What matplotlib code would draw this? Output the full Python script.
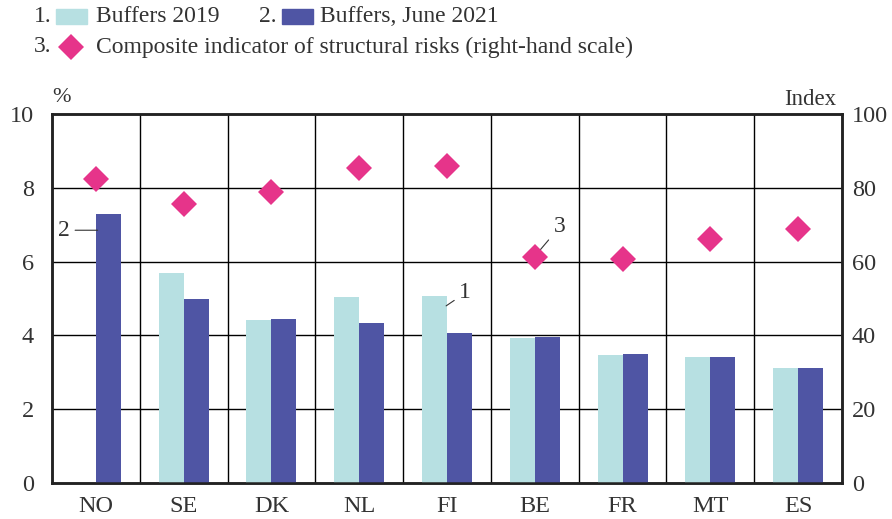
import numpy as np
import matplotlib.pyplot as plt
from matplotlib.patches import Rectangle
from matplotlib.lines import Line2D

plt.rcParams["font.family"] = ["Liberation Serif", "DejaVu Serif"]

# -----------------------------
# Data
# -----------------------------
countries = ["NO", "SE", "DK", "NL", "FI", "BE", "FR", "MT", "ES"]
buffers_2019 = [0.0, 5.68, 4.42, 5.04, 5.07, 3.93, 3.47, 3.41, 3.12]
buffers_2021 = [7.29, 5.00, 4.44, 4.33, 4.06, 3.95, 3.49, 3.42, 3.12]
risk_index = [82.3, 75.5, 78.9, 85.5, 85.9, 61.3, 60.6, 66.0, 68.8]

light = "#b7e0e2"
dark = "#4f55a4"
pink = "#e6348a"
txt = "#333333"

fig = plt.figure(figsize=(8.92, 5.19), dpi=100)
ax = fig.add_axes([52 / 892, 1 - 483 / 519, 790 / 892, 369 / 519])

x = np.arange(len(countries))
w = 0.285
ax.bar(x - w / 2, buffers_2019, width=w, color=light, zorder=3)
ax.bar(x + w / 2, buffers_2021, width=w, color=dark, zorder=3)

ax.set_xlim(-0.5, len(countries) - 0.5)
ax.set_ylim(0, 10)
ax.set_yticks(range(0, 11, 2))
ax.set_xticks(x)
ax.set_xticklabels(countries)

# grid: horizontal lines + vertical separators between categories
for yv in range(2, 10, 2):
    ax.axhline(yv, color="black", lw=1.0, zorder=1)
for xv in x[:-1] + 0.5:
    ax.axvline(xv, color="black", lw=1.0, zorder=1)

ax2 = ax.twinx()
ax2.set_ylim(0, 100)
ax2.set_yticks(range(0, 101, 20))
ax2.plot(x, risk_index, linestyle="none", marker="D", ms=13, color=pink,
         markeredgewidth=0, zorder=5)

for a in (ax, ax2):
    for s in a.spines.values():
        s.set_linewidth(1.8)
        s.set_color("#222222")
    a.tick_params(length=0, labelsize=17.5, colors=txt)
ax.tick_params(axis="y", pad=13)
ax.tick_params(axis="x", pad=9)
ax2.tick_params(axis="y", pad=7)

ax.text(-0.5, 10.2, "%", fontsize=16, color=txt, ha="left", va="bottom")
ax2.text(len(countries) - 0.56, 101.0, "Index", fontsize=16.5, color=txt,
         ha="right", va="bottom")

# annotations
ax.annotate("2", xy=(x[0] + 0.02, 6.85), xytext=(x[0] - 0.3, 6.85),
            fontsize=17, color=txt, ha="right", va="center",
            arrowprops=dict(arrowstyle="-", color=txt, lw=0.8,
                            shrinkA=2, shrinkB=0))
ax.annotate("1", xy=(x[4] - 0.01, 4.8), xytext=(x[4] + 0.14, 5.15),
            fontsize=17, color=txt, ha="left", va="center",
            arrowprops=dict(arrowstyle="-", color=txt, lw=0.8,
                            shrinkA=2, shrinkB=0))
ax2.annotate("3", xy=(x[5] + 0.02, 62), xytext=(x[5] + 0.22, 69.5),
             fontsize=17, color=txt, ha="left", va="center",
             arrowprops=dict(arrowstyle="-", color=txt, lw=0.8,
                             shrinkA=3, shrinkB=0))

# legend (drawn by hand)
fs = 17
fig.text(34 / 892, 1 - 17 / 519, "1.", fontsize=fs, color=txt, va="center")
fig.add_artist(Rectangle((56 / 892, 1 - 24 / 519), 31 / 892, 15 / 519,
                         transform=fig.transFigure, color=light))
fig.text(96 / 892, 1 - 17 / 519, "Buffers 2019", fontsize=fs, color=txt,
         va="center")
fig.text(259 / 892, 1 - 17 / 519, "2.", fontsize=fs, color=txt, va="center")
fig.add_artist(Rectangle((282 / 892, 1 - 24 / 519), 31 / 892, 15 / 519,
                         transform=fig.transFigure, color=dark))
fig.text(320 / 892, 1 - 17 / 519, "Buffers, June 2021", fontsize=fs,
         color=txt, va="center")
fig.text(34 / 892, 1 - 47 / 519, "3.", fontsize=fs, color=txt, va="center")
fig.add_artist(Line2D([71 / 892], [1 - 47 / 519], transform=fig.transFigure,
                      marker="D", ms=13, color=pink, markeredgewidth=0,
                      linestyle="none"))
fig.text(96 / 892, 1 - 47 / 519,
         "Composite indicator of structural risks (right-hand scale)",
         fontsize=fs, color=txt, va="center")

fig.savefig("out.png", dpi=100)
